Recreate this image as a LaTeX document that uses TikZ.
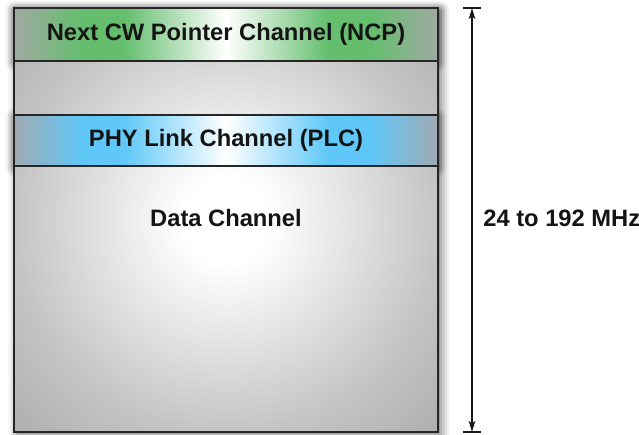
\documentclass[tikz,border=0pt]{standalone}
\usepackage{fontspec}
\setmainfont{Liberation Sans}
\usetikzlibrary{arrows.meta,shadows.blur}
\definecolor{ncpedge}{RGB}{160,170,162}
\definecolor{ncpgreen}{RGB}{100,190,110}
\definecolor{plcedge}{RGB}{160,170,178}
\definecolor{plcblue}{RGB}{95,200,248}
\pgfdeclarehorizontalshading{ncpshade}{100bp}{color(0bp)=(ncpedge); color(25bp)=(ncpedge); color(33bp)=(ncpgreen); color(38bp)=(ncpgreen); color(50bp)=(white); color(62bp)=(ncpgreen); color(67bp)=(ncpgreen); color(75bp)=(ncpedge); color(100bp)=(ncpedge)}
\pgfdeclarehorizontalshading{plcshade}{100bp}{color(0bp)=(plcedge); color(25bp)=(plcedge); color(33bp)=(plcblue); color(38bp)=(plcblue); color(50bp)=(white); color(62bp)=(plcblue); color(67bp)=(plcblue); color(75bp)=(plcedge); color(100bp)=(plcedge)}
\pgfdeclareradialshading{datashade}{\pgfpoint{0bp}{0bp}}{color(0bp)=(white); color(5bp)=(white); color(25bp)=(black!23); color(36bp)=(black!32); color(50bp)=(black!32)}
\tikzset{
  lbl/.style={font=\bfseries\fontsize{13.5}{16}\selectfont, text=black!92},
  band/.style={lbl, draw=black!85, line width=1.1pt, shade, minimum width=8.48cm, inner sep=0pt},
  shadowbox/.style={blur shadow={shadow xshift=1.8pt, shadow yshift=-1.5pt, shadow blur radius=5pt, shadow opacity=60}},
  bandshadow/.style={blur shadow={shadow xshift=0pt, shadow yshift=-1pt, shadow blur radius=5pt, shadow opacity=65}},
  dimline/.style={line width=0.9pt, black!90}
}
\begin{document}
\begin{tikzpicture}[x=0.02cm,y=-0.02cm]
\useasboundingbox (0,0) rectangle (639,435);
% shadows
\path[shadowbox] (14,8) rectangle (438,432);
\path[bandshadow] (14,8) rectangle (438,61);
\path[bandshadow] (14,115) rectangle (438,166);
% main box
\node[draw=black!85, line width=1.1pt, shade, shading=datashade, minimum width=8.48cm, minimum height=8.48cm, inner sep=0pt] (box) at (226,220) {};
\node[lbl] (data) at (226,218) {Data Channel};
% bands
\node[band, shading=ncpshade, minimum height=1.06cm] (ncp) at (226,34.5) {Next CW Pointer Channel (NCP)};
\node[band, shading=plcshade, minimum height=1.02cm] (plc) at (226,140.5) {PHY Link Channel (PLC)};
% dimension
\coordinate (top) at (472,8);
\coordinate (bot) at (472,432);
\draw[dimline] ([xshift=-0.18cm]top) -- ([xshift=0.18cm]top);
\draw[dimline] ([xshift=-0.18cm]bot) -- ([xshift=0.18cm]bot);
\draw[dimline, {Stealth[length=2.2mm,width=1.3mm,inset=0.5mm]}-{Stealth[length=2.2mm,width=1.3mm,inset=0.5mm]}] (top) -- (bot);
\node[lbl, anchor=west, inner sep=0pt] (freq) at (483,218) {24 to 192 MHz};
\end{tikzpicture}
\end{document}
